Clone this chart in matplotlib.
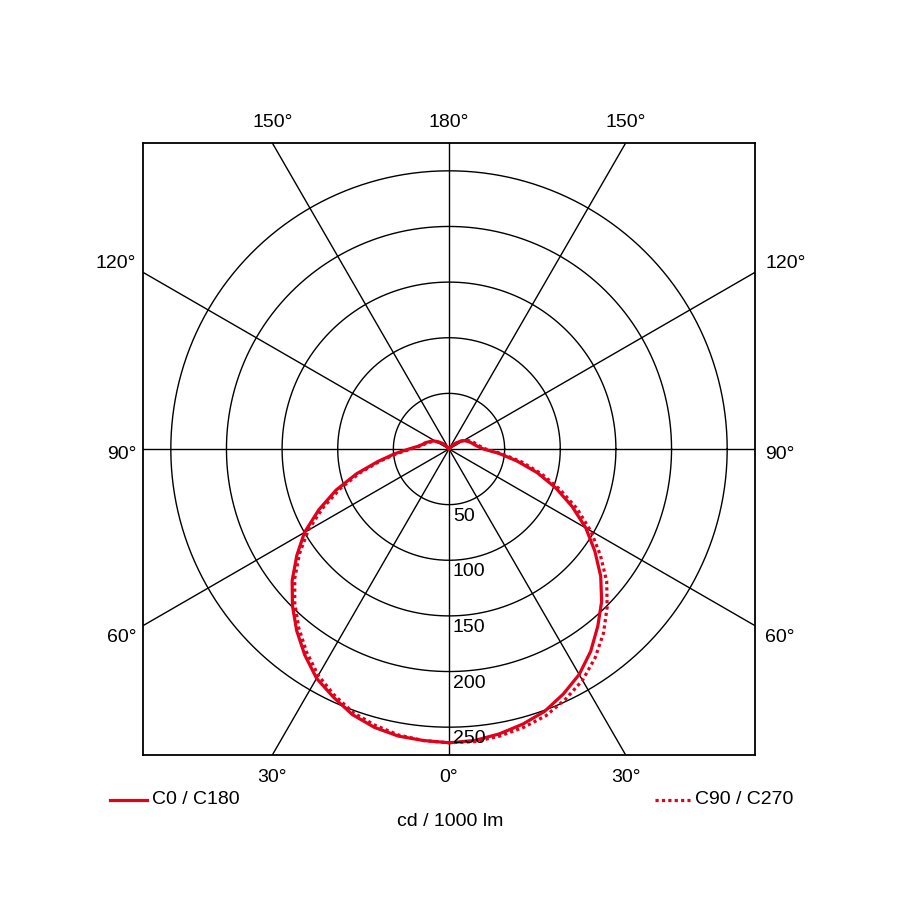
import numpy as np
import matplotlib.pyplot as plt
from matplotlib.lines import Line2D

plt.rcParams['font.family'] = ['Liberation Sans', 'DejaVu Sans']

# gamma angles (deg from nadir), 0..180 step 5
gamma = np.arange(0, 185, 5)

# intensities in cd / 1000 lm
c0 = [264, 263, 260, 256, 251, 243, 234, 222, 208, 194, 178, 160, 142, 122, 102, 82, 62, 45, 31,
      26, 23, 21, 19, 17, 15, 12, 8, 4, 1, 0, 0, 0, 0, 0, 0, 0, 0]
c180 = [264, 263, 262, 259, 254, 246, 238, 226, 213, 199, 184, 167, 150, 129, 108, 86, 65, 49, 36,
        28, 24, 22, 19, 17, 14, 11, 8, 4, 1, 0, 0, 0, 0, 0, 0, 0, 0]
c90 = [264, 264, 262, 259, 255, 248, 240, 229, 216, 201, 185, 166, 147, 127, 106, 86, 66, 47, 33,
       28, 25, 23, 21, 18, 15, 12, 8, 4, 1, 0, 0, 0, 0, 0, 0, 0, 0]
c270 = [264, 263, 261, 257, 252, 244, 235, 223, 210, 196, 181, 164, 146, 125, 104, 83, 63, 47, 34,
        27, 23, 21, 18, 16, 13, 10, 7, 3, 1, 0, 0, 0, 0, 0, 0, 0, 0]

rings = [50, 100, 150, 200, 250]
ring_labels = ['50', '100', '150', '200', '250']
spoke_angles = [0, 30, 60, 90, 120, 150]

red = '#e2001a'
half = 275
fs = 14


def curve(left, right):
    # left half goes 180 -> 0, right half 0 -> 180
    g = np.radians(gamma)
    l = np.array(left, dtype=float)
    r = np.array(right, dtype=float)
    x = np.concatenate([-(l * np.sin(g))[::-1], (r * np.sin(g))[1:]])
    y = np.concatenate([-(l * np.cos(g))[::-1], -(r * np.cos(g))[1:]])
    return x, y


fig = plt.figure(figsize=(9, 9), dpi=100)
ax = fig.add_axes([143 / 900, 145 / 900, 612 / 900, 612 / 900])
ax.set_xlim(-half, half)
ax.set_ylim(-half, half)
ax.set_aspect('equal')
ax.set_xticks([])
ax.set_yticks([])
for sp in ax.spines.values():
    sp.set_linewidth(1.3)

t = np.linspace(0, 2 * np.pi, 400)
for r in rings:
    ax.plot(r * np.cos(t), r * np.sin(t), color='black', lw=1.0)
for a in spoke_angles:
    ar = np.radians(a)
    d = 500
    ax.plot([-d * np.sin(ar), d * np.sin(ar)], [d * np.cos(ar), -d * np.cos(ar)],
            color='black', lw=1.0)

for r, lab in zip(rings, ring_labels):
    ax.text(3.5, -(r + 10.5), lab, ha='left', va='center', fontsize=fs)

x, y = curve(c180, c0)
ax.plot(x, y, color=red, lw=2.3, solid_joinstyle='round')
x, y = curve(c270, c90)
ax.plot(x, y, color=red, lw=2.3, linestyle=(0, (1, 1)))

# angle labels around the box
tx = half * np.tan(np.radians(30))
top_y = half + 18
bot_y = -half - 20
for xx, lab in [(-tx, '150°'), (0, '180°'), (tx, '150°')]:
    ax.text(xx, top_y, lab, ha='center', va='center', fontsize=fs, clip_on=False)
for xx, lab in [(-tx, '30°'), (0, '0°'), (tx, '30°')]:
    ax.text(xx, bot_y, lab, ha='center', va='center', fontsize=fs, clip_on=False)
for yy, lab in [(167, '120°'), (-5, '90°'), (-169, '60°')]:
    ax.text(-half - 6, yy, lab, ha='right', va='center', fontsize=fs, clip_on=False)
    ax.text(half + 9, yy, lab, ha='left', va='center', fontsize=fs, clip_on=False)

# legend row
ly = (900 - 800) / 900
fig.add_artist(Line2D([110 / 900, 147 / 900], [ly, ly], color=red, lw=2.3,
                      transform=fig.transFigure))
fig.text(152 / 900, ly, 'C0 / C180', ha='left', va='center', fontsize=fs)
fig.add_artist(Line2D([655 / 900, 690 / 900], [ly, ly], color=red, lw=2.3,
                      linestyle=(0, (1, 1)), transform=fig.transFigure))
fig.text(695 / 900, ly, 'C90 / C270', ha='left', va='center', fontsize=fs)
fig.text(450 / 900, (900 - 822) / 900, 'cd / 1000 lm', ha='center', va='center', fontsize=fs)

fig.savefig('out.png', dpi=100, facecolor='white')
